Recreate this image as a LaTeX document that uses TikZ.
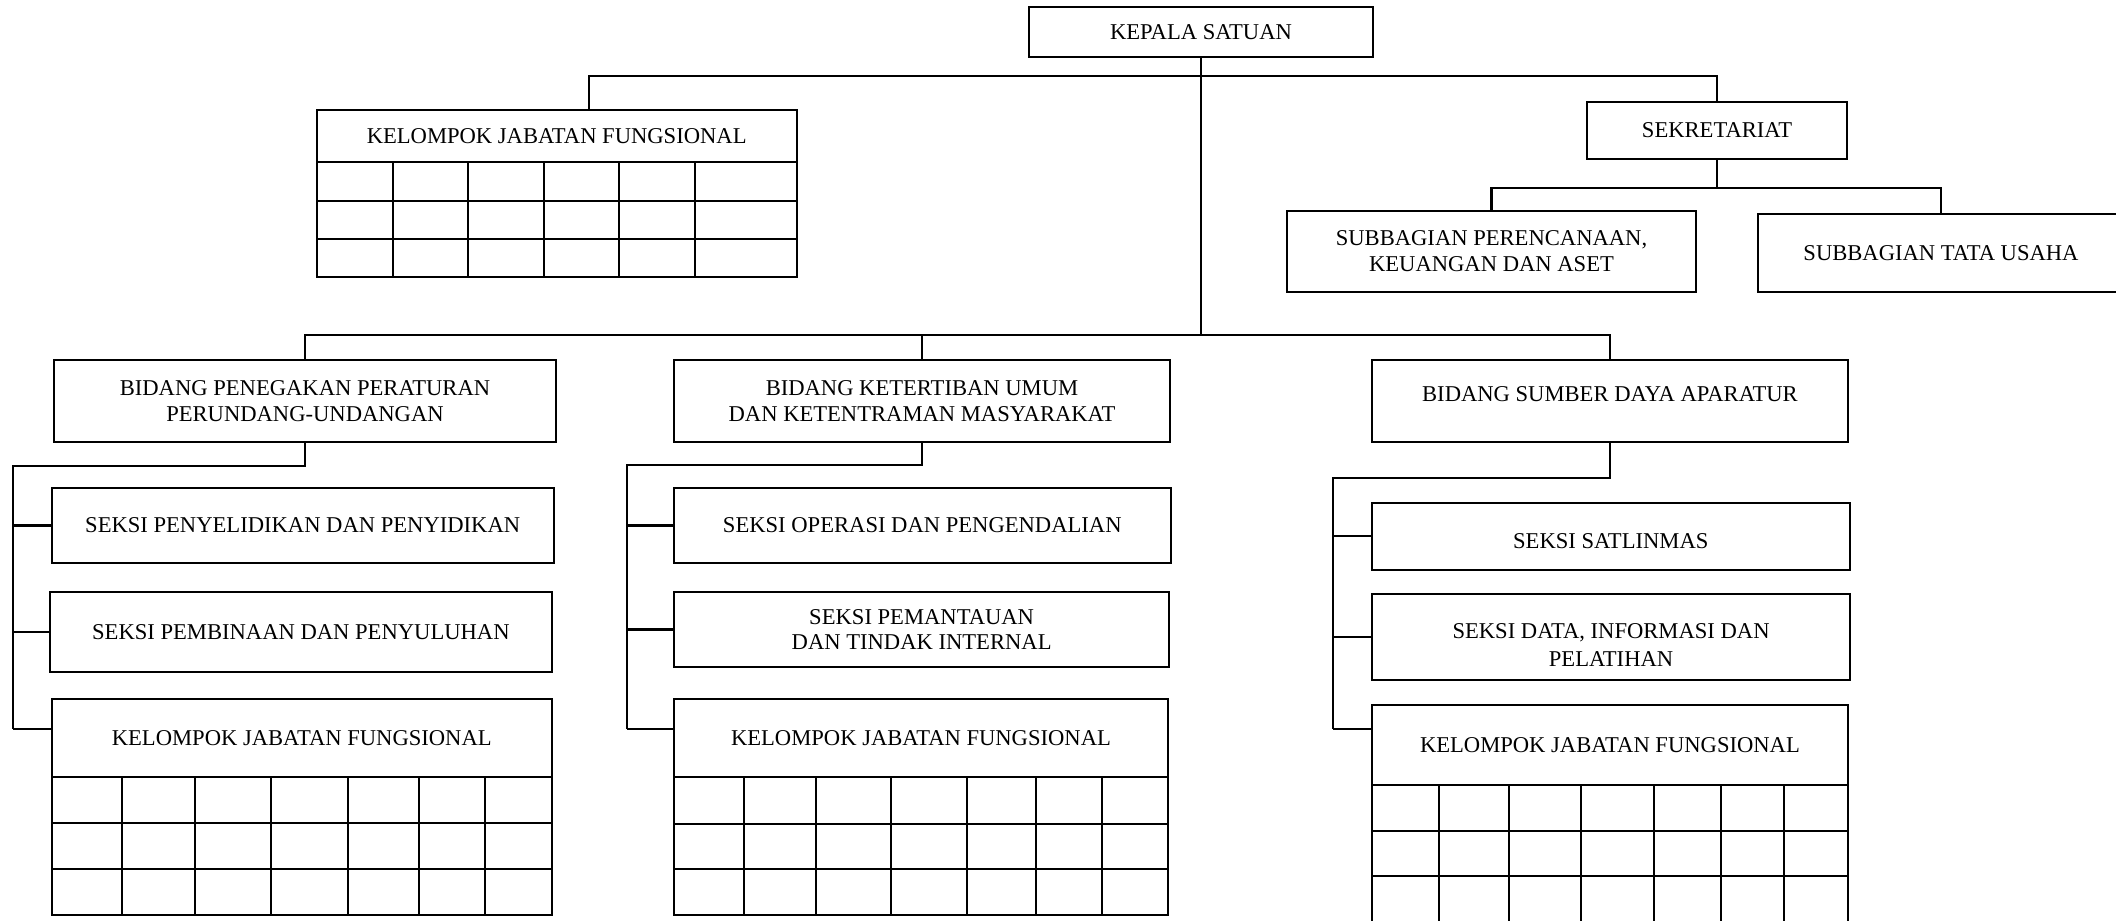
\documentclass[tikz,border=0pt]{standalone}
\usepackage{fontspec}
\setmainfont{Liberation Serif}
\usetikzlibrary{calc}
\newcommand\fs{\fontsize{11.3}{12.9}\selectfont}
\tikzset{
  box/.style={draw, line width=1pt, inner sep=0pt, align=center, font=\fs},
  txt/.style={inner sep=0pt, align=center, font=\fs},
  conn/.style={line width=1.1pt},
  gridl/.style={line width=1pt},
}
% name, x1, y1, x2, y2, text
\newcommand\bbox[6]{%
  \pgfmathsetmacro\bw{(#4-#2)*0.5}%
  \pgfmathsetmacro\bh{(#5-#3)*0.5}%
  \pgfmathsetmacro\bx{(#2+#4)/2}%
  \pgfmathsetmacro\by{(#3+#5)/2}%
  \node[box, minimum width=\bw pt, minimum height=\bh pt] (#1) at (\bx,\by) {#6};}
\begin{document}
\begin{tikzpicture}[x=0.5pt,y=-0.5pt]
\useasboundingbox[fill=white] (0,0) rectangle (2116,921);

% top level
\bbox{kepala}{1029}{7}{1373}{57}{KEPALA SATUAN}
\bbox{sek}{1587}{102}{1847}{159}{SEKRETARIAT}
\bbox{sub1}{1287}{211}{1696}{292}{SUBBAGIAN PERENCANAAN,\\KEUANGAN DAN ASET}
\bbox{sub2}{1758}{214}{2124}{292}{SUBBAGIAN TATA USAHA}

% top kelompok jabatan fungsional
\bbox{k0h}{316.5}{109.7}{796.9}{162}{KELOMPOK JABATAN FUNGSIONAL}
\bbox{k0g}{316.5}{162}{796.9}{277.3}{}
\foreach \x in {392.7,467.6,543.9,619.4,695} \draw[gridl] (\x,162) -- (\x,277.3);
\foreach \y in {200.7,238.7} \draw[gridl] (316.5,\y) -- (796.9,\y);

% bidang
\bbox{bp1}{54}{360}{556}{442}{BIDANG PENEGAKAN PERATURAN\\PERUNDANG-UNDANGAN}
\bbox{bp2}{674}{360}{1170}{442}{BIDANG KETERTIBAN UMUM\\DAN KETENTRAMAN MASYARAKAT}
\bbox{bp3}{1372}{360}{1848}{442}{}
\node[txt] (bp3t) at ($(bp3.center)+(0,-7)$) {BIDANG SUMBER DAYA APARATUR};

% column 1
\bbox{s11}{51.8}{487.9}{553.6}{563}{SEKSI PENYELIDIKAN DAN PENYIDIKAN}
\bbox{s12}{50}{592}{551.8}{671.9}{SEKSI PEMBINAAN DAN PENYULUHAN}
\bbox{k1h}{51.8}{698.7}{551.8}{777.3}{KELOMPOK JABATAN FUNGSIONAL}
\bbox{k1g}{51.8}{777.3}{551.8}{914.9}{}
\foreach \x in {121.9,195.1,271.4,348.2,418.8,484.8} \draw[gridl] (\x,777.3) -- (\x,914.9);
\foreach \y in {823.3,869.3} \draw[gridl] (51.8,\y) -- (551.8,\y);

% column 2
\bbox{s21}{674.1}{487.9}{1170.5}{563}{SEKSI OPERASI DAN PENGENDALIAN}
\bbox{s22}{674.1}{592}{1169.2}{666.9}{SEKSI PEMANTAUAN\\DAN TINDAK INTERNAL}
\bbox{k2h}{674.1}{698.7}{1167.9}{777.3}{KELOMPOK JABATAN FUNGSIONAL}
\bbox{k2g}{674.1}{777.3}{1167.9}{914.9}{}
\foreach \x in {743.8,816.1,891.1,966.5,1035.7,1101.8} \draw[gridl] (\x,777.3) -- (\x,914.9);
\foreach \y in {824,869.3} \draw[gridl] (674.1,\y) -- (1167.9,\y);

% column 3
\bbox{s31}{1371.7}{502.8}{1849.8}{569.9}{}
\node[txt] (s31t) at ($(s31.center)+(0,5)$) {SEKSI SATLINMAS};
\bbox{s32}{1371.7}{594.4}{1850.4}{680.3}{}
\node[txt, font=\fontsize{11.3}{14}\selectfont] (s32t) at ($(s32.center)+(0,8)$) {SEKSI DATA, INFORMASI DAN\\PELATIHAN};
\bbox{k3h}{1371.7}{705.2}{1848.2}{785}{KELOMPOK JABATAN FUNGSIONAL}
\bbox{k3g}{1371.7}{785}{1848.2}{935}{}
\foreach \x in {1438.8,1508.7,1581.2,1654.2,1721.4,1784.3} \draw[gridl] (\x,785) -- (\x,935);
\foreach \y in {830.9,875.8} \draw[gridl] (1371.7,\y) -- (1848.2,\y);

% bus coordinates
\coordinate (bus1) at (589,76);
\coordinate (bus2) at (0,335);
\coordinate (bus3) at (0,188);
\coordinate (r1) at (13,466);
\coordinate (r2) at (627,465);
\coordinate (r3) at (1333,478);
\coordinate (k1t) at (51.8,729);
\coordinate (k2t) at (674.1,729);
\coordinate (k3t) at (1371.7,729);

% connectors top
\draw[conn] (kepala.south) -- (kepala.south |- bus2);
\draw[conn] (bus1 |- k0h.north) -- (bus1) -- (bus1 -| sek.north) -- (sek.north);
\draw[conn] (sek.south) -- (sek.south |- bus3);
\draw[conn] (sub1.north) -- (sub1.north |- bus3) -- (sub2.north |- bus3) -- (sub2.north);

% connectors bidang
\draw[conn] (bp1.north) -- (bp1.north |- bus2) -- (bp3.north |- bus2) -- (bp3.north);
\draw[conn] (bp2.north) -- (bp2.north |- bus2);

% column connectors
\draw[conn] (bp1.south) -- (bp1.south |- r1) -- (r1) -- (r1 |- k1t);
\draw[conn] (r1 |- s11.west) -- (s11.west);
\draw[conn] (r1 |- s12.west) -- (s12.west);
\draw[conn] (r1 |- k1t) -- (k1t);

\draw[conn] (bp2.south) -- (bp2.south |- r2) -- (r2) -- (r2 |- k2t);
\draw[conn] (r2 |- s21.west) -- (s21.west);
\draw[conn] (r2 |- s22.west) -- (s22.west);
\draw[conn] (r2 |- k2t) -- (k2t);

\draw[conn] (bp3.south) -- (bp3.south |- r3) -- (r3) -- (r3 |- k3t);
\draw[conn] (r3 |- s31.west) -- (s31.west);
\draw[conn] (r3 |- s32.west) -- (s32.west);
\draw[conn] (r3 |- k3t) -- (k3t);
\end{tikzpicture}
\end{document}
